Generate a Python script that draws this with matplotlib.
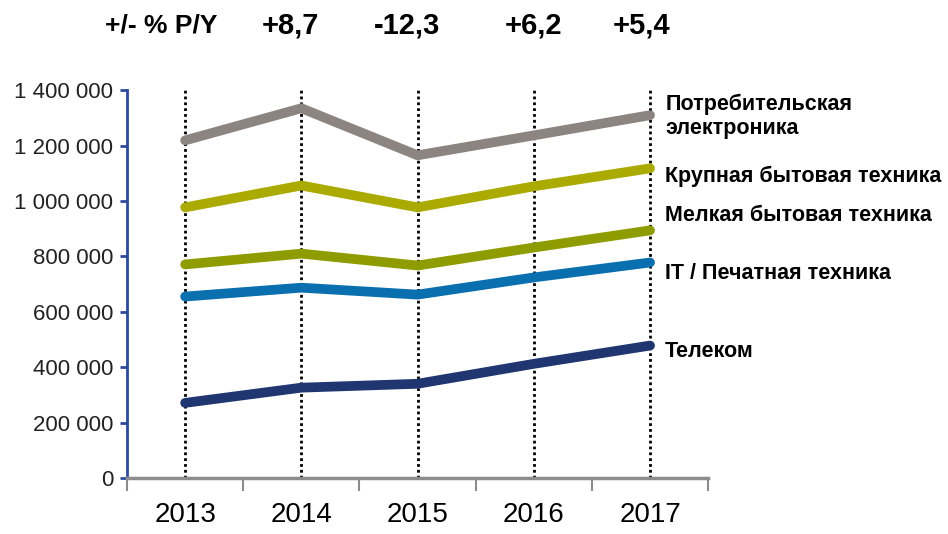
import numpy as np
import matplotlib
matplotlib.use("Agg")
import matplotlib.pyplot as plt
from matplotlib.ticker import FuncFormatter, FixedLocator

plt.rcParams['font.family'] = ['Liberation Sans', 'DejaVu Sans']

years = ['2013', '2014', '2015', '2016', '2017']
yoy = ['+8,7', '-12,3', '+6,2', '+5,4']  # прирост к 2014..2017

categories = ['Потребительская\nэлектроника', 'Крупная бытовая техника',
              'Мелкая бытовая техника', 'IT / Печатная техника', 'Телеком']
consumer_el = [1219000, 1335000, 1165000, 1237000, 1310000]
major_appl = [977000, 1056000, 977000, 1053000, 1118000]
small_appl = [771000, 810000, 767000, 832000, 894000]
it_print = [655000, 687000, 662000, 724000, 778000]
telecom = [271000, 326000, 340000, 412000, 478000]

series = [consumer_el, major_appl, small_appl, it_print, telecom]
colors = ['#8c8480', '#aaaa00', '#8e9c00', '#0a6fae', '#1f3670']
# расположение подписей справа
label_y = [1306000, 1090000, 949000, 740000, 455000]
yoy_x = [0.905, 1.905, 3.0, 3.93]

fig = plt.figure(figsize=(9.48, 5.34), dpi=100)
ax = fig.add_axes([0.134, 0.105, 0.613, 0.726])

x = np.arange(len(years))

# пунктир по годам
for xi in x:
    ax.axvline(xi, color='black', lw=2, ls=(0, (1, 1.1)), zorder=1)

for vals, col in zip(series, colors):
    ax.plot(x, vals, color=col, lw=7, solid_capstyle='round', solid_joinstyle='round', zorder=3)

for name, ly in zip(categories, label_y):
    ax.text(4.13, ly, name, fontsize=15.5, fontweight='bold', va='center', ha='left',
            linespacing=1.15, clip_on=False)

ax.set_xlim(-0.5, 4.5)
ax.set_ylim(0, 1400000)

ax.set_xticks(x)
ax.set_xticklabels(years, fontsize=20)
ax.xaxis.set_minor_locator(FixedLocator(np.arange(-0.5, 5, 1)))
ax.tick_params(axis='x', which='major', length=0, pad=17)
ax.tick_params(axis='x', which='minor', length=9, width=1.5, color='#8c8c8c')

ax.set_yticks(np.arange(0, 1400001, 200000))
ax.yaxis.set_major_formatter(FuncFormatter(lambda v, p: f"{v:,.0f}".replace(",", " ")))
ax.tick_params(axis='y', length=5, width=2, color='#2e4b9b', labelsize=16, pad=5,
               labelcolor='#222222')

for s in ['top', 'right']:
    ax.spines[s].set_visible(False)
ax.spines['left'].set_color('#2e4b9b')
ax.spines['left'].set_linewidth(2)
ax.spines['bottom'].set_color('#8c8c8c')
ax.spines['bottom'].set_linewidth(2.5)

# шапка с приростом
trans = ax.get_xaxis_transform()
ax.text(-0.21, 1.167, '+/- % P/Y', transform=trans, fontsize=19, fontweight='bold',
        ha='center', va='center', clip_on=False)
for xp, t in zip(yoy_x, yoy):
    ax.text(xp, 1.167, t, transform=trans, fontsize=21, fontweight='bold',
            ha='center', va='center', clip_on=False)

fig.savefig('out.png', dpi=100)
